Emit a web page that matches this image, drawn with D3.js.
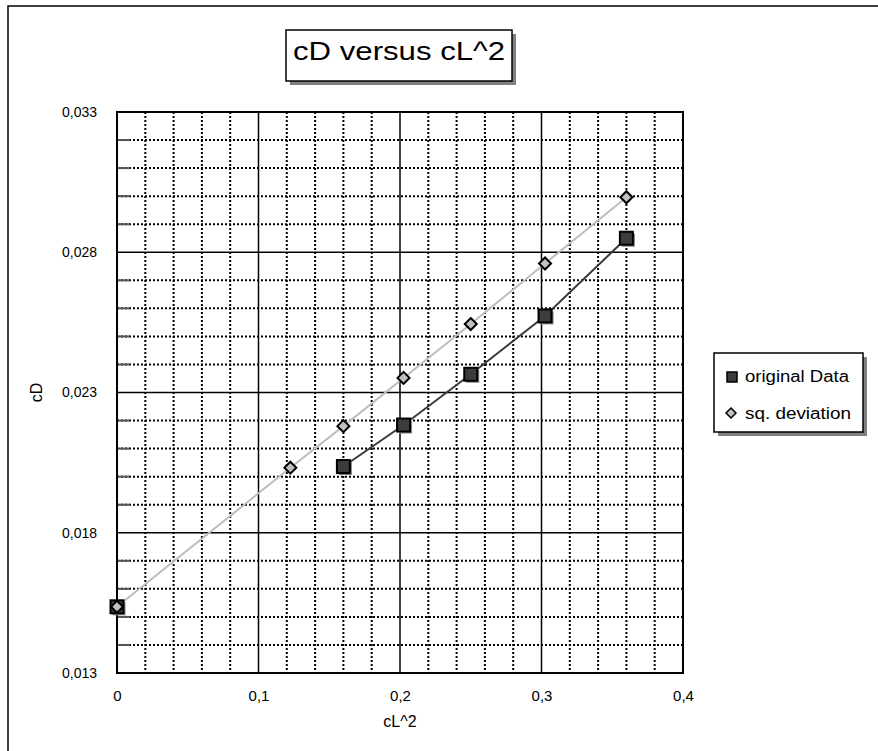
<!DOCTYPE html>
<html><head><meta charset="utf-8">
<script src="https://cdn.jsdelivr.net/npm/d3@7"></script>
<style>
body{margin:0;background:#fff;}
text{font-family:"Liberation Sans",Arial,sans-serif;fill:#000;}
</style></head>
<body>
<svg id="c" width="878" height="751"></svg>
<script>
const xTicks = [0, 0.1, 0.2, 0.3, 0.4];
const yTicks = [0.013, 0.018, 0.023, 0.028, 0.033];
const origX = [0, 0.1225, 0.16, 0.2025, 0.25, 0.3025, 0.36];
const origY = [0.01536, null, 0.02036, 0.02184, 0.02365, 0.02573, 0.0285];
const devX = [0, 0.1225, 0.16, 0.2025, 0.25, 0.3025, 0.36];
const devY = [0.01536, 0.02032, 0.0218, 0.02352, 0.02544, 0.0276, 0.02996];
const seriesNames = ["original Data", "sq. deviation"];
const titleText = "cD versus cL^2";
const xTitle = "cL^2", yTitle = "cD";

const svg = d3.select("#c");
const L = 117, R = 683, T = 112, B = 673;
const x = d3.scaleLinear().domain([0, 0.4]).range([L, R]);
const y = d3.scaleLinear().domain([0.013, 0.033]).range([B, T]);
const fmt = v => (v === 0 ? "0" : String(+v.toFixed(3)).replace(".", ","));

// outer frame
svg.append("rect").attr("x", 8).attr("y", 6).attr("width", 900).attr("height", 900)
  .attr("fill", "none").attr("stroke", "#000").attr("stroke-width", 1.5);

// minor grid
const minorX = d3.range(1, 20).map(i => i * 0.02).filter((v, i) => (i + 1) % 5 !== 0);
const minorY = d3.range(1, 20).map(i => 0.013 + i * 0.001).filter((v, i) => (i + 1) % 5 !== 0);
const g = svg.append("g");
g.selectAll(".mx").data(minorX).join("line")
  .attr("x1", d => x(d)).attr("x2", d => x(d)).attr("y1", T).attr("y2", B)
  .attr("stroke", "#000").attr("stroke-width", 2).attr("stroke-dasharray", "2,2");
g.selectAll(".my").data(minorY).join("line")
  .attr("x1", L).attr("x2", R).attr("y1", d => y(d)).attr("y2", d => y(d))
  .attr("stroke", "#000").attr("stroke-width", 2).attr("stroke-dasharray", "2,2");
// minor ticks inside left axis
g.selectAll(".mt").data(minorY).join("line")
  .attr("x1", L).attr("x2", L + 13).attr("y1", d => y(d)).attr("y2", d => y(d))
  .attr("stroke", "#555").attr("stroke-width", 2);
// major grid
g.selectAll(".Mx").data(xTicks.slice(1, -1)).join("line")
  .attr("x1", d => x(d)).attr("x2", d => x(d)).attr("y1", T).attr("y2", B)
  .attr("stroke", "#000").attr("stroke-width", 1.5);
g.selectAll(".My").data(yTicks.slice(1, -1)).join("line")
  .attr("x1", L).attr("x2", R).attr("y1", d => y(d)).attr("y2", d => y(d))
  .attr("stroke", "#000").attr("stroke-width", 1.5);
// plot border
svg.append("rect").attr("x", L).attr("y", T).attr("width", R - L).attr("height", B - T)
  .attr("fill", "none").attr("stroke", "#000").attr("stroke-width", 2);

// axes labels
const ax = svg.append("g").attr("transform", `translate(0,${B})`)
  .call(d3.axisBottom(x).tickValues(xTicks).tickFormat(fmt).tickSize(0).tickPadding(17));
ax.select(".domain").remove();
ax.selectAll("text").attr("font-size", 15).attr("font-family", "Liberation Sans, Arial, sans-serif");
const ay = svg.append("g").attr("transform", `translate(${L},0)`)
  .call(d3.axisLeft(y).tickValues(yTicks).tickFormat(fmt).tickSize(0).tickPadding(20));
ay.select(".domain").remove();
ay.selectAll("text").attr("font-size", 14).attr("font-family", "Liberation Sans, Arial, sans-serif");

svg.append("text").attr("x", (L + R) / 2).attr("y", 727).attr("text-anchor", "middle")
  .attr("font-size", 16).text(xTitle);
svg.append("text").attr("transform", `translate(42,${(T + B) / 2}) rotate(-90)`)
  .attr("text-anchor", "middle").attr("font-size", 16).text(yTitle);

// lines
const origPts = origX.map((v, i) => [v, origY[i]]);
const devPts = devX.map((v, i) => [v, devY[i]]);
const line = d3.line().defined(d => d[1] != null).x(d => x(d[0])).y(d => y(d[1]));
svg.append("path").attr("d", line(devPts)).attr("fill", "none").attr("stroke", "#bdbdbd").attr("stroke-width", 2);
svg.append("path").attr("d", line(origPts)).attr("fill", "none").attr("stroke", "#3a3a3a").attr("stroke-width", 2);

// markers
const sq = 13;
const oData = origPts.filter(d => d[1] != null);
svg.selectAll(".ss").data(oData).join("rect")
  .attr("x", d => x(d[0]) - sq / 2 + 2).attr("y", d => y(d[1]) - sq / 2 + 2)
  .attr("width", sq).attr("height", sq).attr("fill", "#888");
svg.selectAll(".s").data(oData).join("rect")
  .attr("x", d => x(d[0]) - sq / 2).attr("y", d => y(d[1]) - sq / 2)
  .attr("width", sq).attr("height", sq).attr("fill", "#3c3c3c").attr("stroke", "#000").attr("stroke-width", 2);
const dia = (cx, cy, r) => `M${cx},${cy - r}L${cx + r},${cy}L${cx},${cy + r}L${cx - r},${cy}Z`;
svg.selectAll(".d").data(devPts).join("path")
  .attr("d", d => dia(x(d[0]), y(d[1]), 6))
  .attr("fill", "#c0c0c0").attr("stroke", "#000").attr("stroke-width", 2);

// title
svg.append("rect").attr("x", 290).attr("y", 34).attr("width", 226).attr("height", 51).attr("fill", "#808080");
svg.append("rect").attr("x", 286).attr("y", 30).attr("width", 226).attr("height", 51)
  .attr("fill", "#fff").attr("stroke", "#000").attr("stroke-width", 1.5);
svg.append("text").attr("x", 293).attr("y", 60).attr("font-size", 26)
  .attr("textLength", 212).attr("lengthAdjust", "spacingAndGlyphs").text(titleText);

// legend
svg.append("rect").attr("x", 718).attr("y", 357).attr("width", 149).attr("height", 79).attr("fill", "#808080");
svg.append("rect").attr("x", 714).attr("y", 353).attr("width", 149).attr("height", 79)
  .attr("fill", "#fff").attr("stroke", "#000").attr("stroke-width", 1.5);
svg.append("rect").attr("x", 727).attr("y", 372).attr("width", 10).attr("height", 10)
  .attr("fill", "#3c3c3c").attr("stroke", "#000").attr("stroke-width", 1.5);
svg.append("path").attr("d", dia(731, 413, 5)).attr("fill", "#c0c0c0").attr("stroke", "#000").attr("stroke-width", 1.5);
svg.append("text").attr("x", 745).attr("y", 382).attr("font-size", 16).attr("textLength", 104).attr("lengthAdjust", "spacingAndGlyphs").text(seriesNames[0]);
svg.append("text").attr("x", 745).attr("y", 419).attr("font-size", 16).attr("textLength", 106).attr("lengthAdjust", "spacingAndGlyphs").text(seriesNames[1]);
</script>
</body></html>
